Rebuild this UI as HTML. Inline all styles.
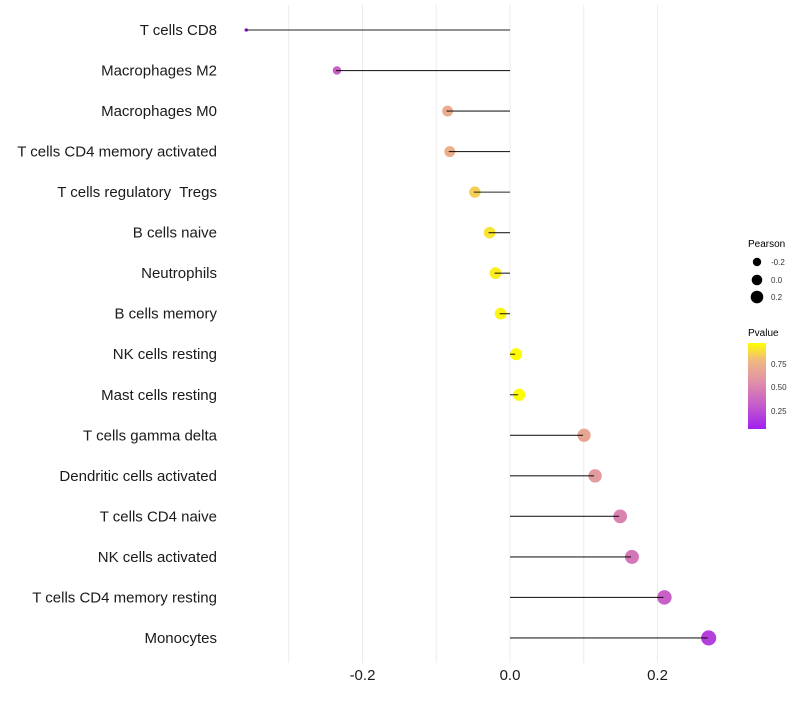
<!DOCTYPE html>
<html><head><meta charset="utf-8"><style>
body{margin:0;background:#fff;font-family:"Liberation Sans",Arial,sans-serif}
svg text{font-family:"Liberation Sans",Arial,sans-serif;white-space:pre}
</style></head><body>
<svg id="chart" width="800" height="700" viewBox="0 0 800 700" xmlns="http://www.w3.org/2000/svg" xml:space="preserve">
<defs>
<linearGradient id="pg" x1="0" y1="1" x2="0" y2="0">
<stop offset="0" stop-color="#A020F0"/>
<stop offset="0.3" stop-color="#C860C8"/>
<stop offset="0.55" stop-color="#E090A8"/>
<stop offset="0.8" stop-color="#F0B880"/>
<stop offset="1" stop-color="#FFFF00"/>
</linearGradient>
</defs>
<g id="grid"></g>
<g id="marks"></g>
<g id="labels"></g>
<g id="xticks"></g>
<g>
<text x="748" y="247" font-size="10" fill="#000">Pearson</text>
<circle cx="757" cy="262" r="4.2" fill="#000"/>
<text x="771" y="265" font-size="8" fill="#333">-0.2</text>
<circle cx="757" cy="280" r="5.3" fill="#000"/>
<text x="771" y="283" font-size="8" fill="#333">0.0</text>
<circle cx="757" cy="297" r="6.3" fill="#000"/>
<text x="771" y="300" font-size="8" fill="#333">0.2</text>
</g>
<g>
<text x="748" y="336" font-size="10" fill="#000">Pvalue</text>
<rect x="748" y="343" width="18" height="86" fill="url(#pg)"/>
<text x="771" y="367" font-size="8" fill="#333">0.75</text>
<text x="771" y="390" font-size="8" fill="#333">0.50</text>
<text x="771" y="414" font-size="8" fill="#333">0.25</text>
</g>
</svg>
<script>
const categories=["T cells CD8","Macrophages M2","Macrophages M0","T cells CD4 memory activated","T cells regulatory  Tregs","B cells naive","Neutrophils","B cells memory","NK cells resting","Mast cells resting","T cells gamma delta","Dendritic cells activated","T cells CD4 naive","NK cells activated","T cells CD4 memory resting","Monocytes"];
const pearson=[-0.359,-0.236,-0.086,-0.083,-0.049,-0.029,-0.021,-0.014,0.007,0.011,0.099,0.114,0.148,0.164,0.208,0.268];
const pvalues=[0.05,0.3,0.72,0.74,0.86,0.92,0.95,0.97,0.99,0.99,0.68,0.62,0.48,0.42,0.3,0.15];
const xTicks=[-0.2,0,0.2];
const xTickLabels=["-0.2","0.0","0.2"];
const gridVals=[-0.3,-0.2,-0.1,0,0.1,0.2];
const NS="http://www.w3.org/2000/svg";
function xs(v){return 510+v*737.5;}
function ys(i){return 30+i*40.53;}
function lerp(a,b,t){return Math.round(a+(b-a)*t);}
const stops=[[0,[160,32,240]],[0.3,[200,96,200]],[0.55,[224,144,168]],[0.8,[240,184,128]],[1,[255,255,0]]];
function col(p){for(let k=1;k<stops.length;k++){if(p<=stops[k][0]){const a=stops[k-1],b=stops[k];const t=(p-a[0])/(b[0]-a[0]);return `rgb(${lerp(a[1][0],b[1][0],t)},${lerp(a[1][1],b[1][1],t)},${lerp(a[1][2],b[1][2],t)})`;}}return "rgb(255,255,0)";}
function rs(v){const a=v+0.4;return a<0.1?1.8:Math.sqrt(5+78*a);}
function mk(tag,attrs,parent){const e=document.createElementNS(NS,tag);for(const k in attrs)e.setAttribute(k,attrs[k]);document.getElementById(parent).appendChild(e);return e;}
gridVals.forEach(g=>{
 const l=mk("line",{x1:xs(g),x2:xs(g),y1:5,y2:663,stroke:"#ebebeb","stroke-width":1},"grid");
 
 
});
categories.forEach((c,i)=>{
 const y=ys(i);
 const cir=mk("circle",{cx:xs(pearson[i])+1,cy:y,r:rs(pearson[i]),fill:col(pvalues[i])},"marks");
 
 
 const seg=mk("line",{x1:xs(0),x2:xs(pearson[i]),y1:y,y2:y,stroke:"#000","stroke-opacity":0.85,"stroke-width":1.1},"marks");
 
 
 const t=mk("text",{x:217,y:y+5,"text-anchor":"end","font-size":15,fill:"#1a1a1a"},"labels");
 t.textContent=c;
 
 
});
xTicks.forEach((v,i)=>{
 const t=mk("text",{x:xs(v),y:680,"text-anchor":"middle","font-size":15,fill:"#1a1a1a"},"xticks");
 t.textContent=xTickLabels[i];
 
 
});
</script>
</body></html>
